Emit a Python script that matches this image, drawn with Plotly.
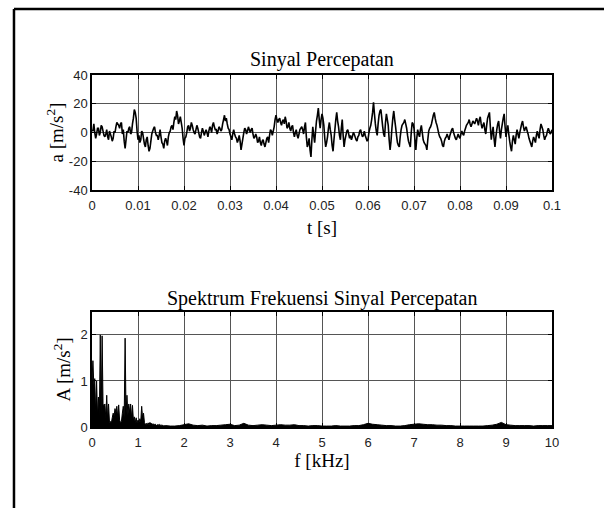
import numpy as np
import plotly.graph_objects as go
from plotly.subplots import make_subplots

# ---------------- data ----------------
dt = 0.0002
accel_0 = [2, 1, 6, 0, -4, -1, 3, 3, -2, 0, 5, 4, 1, -2, -3, -1, 2, -3, -5, 1,
           -1, -3, -6, -4, 1, 0, 4, 7, 6, 5, 3, 6, 7, -1, 2, -6, -11, -5, 1, 0,
           3, 4, -1, 0, 6, 10, 16, 14, 10, 1]
accel_1 = [-5, -2, -7, -5, 1, 0, -4, -8, -10, -5, -3, -9, -13, -11, -6, -1, 1, 3, 4, 0,
           -2, -2, -5, -2, 2, -3, -7, -8, -11, -6, -4, -6, -9, -3, 0, 1, 4, 5, 2, 7,
           11, 9, 15, 12, 6, 8, 11, 7, 3, -4]
accel_2 = [-9, -4, -3, 0, 4, 5, 1, 3, 7, 5, 2, 0, -1, 2, 5, 3, 0, -3, -4, 0,
           3, 1, -2, 0, 2, 0, -3, 1, 4, 3, 0, 5, 7, 4, 2, 2, -1, 1, 4, 3,
           1, 2, 6, 9, 12, 8, 10, 6, 3, 2]
accel_3 = [-1, -3, -5, -1, 2, -1, -3, -4, -7, -5, -2, -6, -12, -8, -4, 0, 3, 2, -1, 1,
           4, 2, 0, 2, 3, -1, -4, -3, -1, -3, -7, -6, -3, -7, -9, -6, -5, -8, -10, -7,
           -4, -3, -7, -2, 2, 1, -2, 1, 4, 9]
accel_4 = [12, 9, 7, 9, 10, 7, 5, 8, 9, 6, 11, 8, 3, 4, 7, 3, 1, 4, 5, 0,
           -3, 0, 2, -2, -4, -1, 2, 3, 4, 2, -1, 4, 7, -3, -10, -8, -4, -12, -17, -5,
           4, -2, -7, 1, 8, 12, 17, 9, 3, 9]
accel_5 = [13, 10, 5, -4, -10, -7, -3, 3, 7, 2, -2, -9, -13, -5, 2, 9, 14, 8, 4, -2,
           -5, 3, 9, -2, -10, -5, -2, 1, 2, -1, -4, -2, -5, -3, 0, -1, -3, -5, -6, -3,
           -2, 1, 2, -1, -3, -2, 1, -2, -4, -6]
accel_6 = [-5, 0, 3, 5, 9, 14, 21, 13, 6, 1, -2, 6, 12, 15, 16, 10, 4, -1, -3, 7,
           13, 9, 5, -5, -12, -6, 3, 10, 15, 9, 4, -2, -7, -9, -10, -3, 2, 5, 6, 7,
           9, 6, 3, -2, -6, -8, -10, 0, 7, 6]
accel_7 = [3, -5, -12, -4, 2, -1, -3, 2, 5, 0, -5, -7, -8, -9, -12, -5, 1, 3, 4, 6,
           9, 12, 14, 10, 7, 5, 2, -1, -3, -4, -6, -9, -10, -6, -4, -3, -1, -3, -5, -2,
           0, 2, 3, 0, -2, -4, -5, -3, -1, -3]
accel_8 = [-4, -1, 1, -1, -2, 1, 3, 5, 6, 7, 9, 6, 4, 6, 8, 7, 6, 8, 10, 8,
           5, 9, 11, 6, 3, 5, 7, 2, -1, 5, 10, 12, 14, 4, -5, 0, 4, -4, -10, -3,
           2, 6, 8, 1, -4, 2, 6, 10, 13, 4]
accel_9 = [-3, 2, 5, -1, -6, -10, -13, -6, -2, -5, -8, -2, 2, -1, -4, 0, 3, 6, 8, 4,
           1, 3, 4, 1, -1, -4, -6, -8, -10, -6, -3, -5, -7, -2, 1, -2, -4, 2, 6, 4,
           2, -2, -5, -3, -2, 1, 3, 1, -1, 0, 2]
accel = (accel_0 + accel_1 + accel_2 + accel_3 + accel_4 +
         accel_5 + accel_6 + accel_7 + accel_8 + accel_9)
t = np.arange(len(accel)) * dt

spec_lo = [
    1.0, 1.44, 0.9, 1.05, 0.3, 1.0, 0.25, 0.65, 0.2, 2.0,
    0.3, 1.98, 0.5, 0.45, 0.5, 0.2, 0.69, 0.15, 0.5, 0.1,
    0.12, 0.08, 0.2, 0.3, 0.25, 0.4, 0.3, 0.45, 0.2, 0.48,
    0.15, 0.1, 0.12, 0.3, 0.45, 0.2, 1.93, 0.3, 0.69, 0.25,
    0.5, 0.3, 0.5, 0.2, 0.47, 0.15, 0.22, 0.1, 0.2, 0.08,
    0.15, 0.1, 0.18, 0.12, 0.45, 0.2, 0.3, 0.1, 0.05, 0.08,
    0.04, 0.09, 0.05, 0.1, 0.06, 0.08, 0.04, 0.07, 0.05, 0.06,
    0.03, 0.05, 0.04, 0.06, 0.03, 0.05, 0.03, 0.04, 0.02, 0.03,
]
spec_hi = [
    0.03, 0.02, 0.02, 0.03, 0.05, 0.07, 0.04, 0.03, 0.04, 0.02,
    0.03, 0.03, 0.04, 0.05, 0.06, 0.03, 0.04, 0.08, 0.04, 0.03,
    0.04, 0.05, 0.04, 0.03, 0.04, 0.05, 0.04, 0.04, 0.05, 0.03,
    0.03, 0.02, 0.03, 0.03, 0.02, 0.02, 0.02, 0.03, 0.02, 0.02,
    0.02, 0.03, 0.03, 0.05, 0.08, 0.06, 0.05, 0.04, 0.03, 0.03,
    0.02, 0.02, 0.03, 0.05, 0.06, 0.07, 0.06, 0.05, 0.05, 0.04,
    0.04, 0.03, 0.03, 0.02, 0.02, 0.02, 0.02, 0.02, 0.02, 0.02,
    0.03, 0.04, 0.06, 0.1, 0.05, 0.04, 0.03, 0.03, 0.03, 0.03,
    0.02, 0.03, 0.03, 0.03, 0.03,
]
f_lo = np.arange(len(spec_lo)) * 0.02
f_hi = 1.6 + np.arange(len(spec_hi)) * 0.1
freq = np.concatenate([f_lo, f_hi])
spec = spec_lo + spec_hi

t_ticks = [0, 0.01, 0.02, 0.03, 0.04, 0.05, 0.06, 0.07, 0.08, 0.09, 0.1]
t_labels = ["0", "0.01", "0.02", "0.03", "0.04", "0.05", "0.06", "0.07", "0.08", "0.09", "0.1"]
a_ticks = [-40, -20, 0, 20, 40]
a_labels = ["-40", "-20", "0", "20", "40"]
f_ticks = list(range(0, 11))
A_ticks = [0, 1, 2]

# ---------------- figure ----------------
fig = make_subplots(rows=2, cols=1, vertical_spacing=0.0)

fig.add_trace(go.Scatter(x=t, y=accel, mode="lines",
                         line=dict(color="black", width=1.6, simplify=False)), row=1, col=1)
fig.add_trace(go.Scatter(x=freq, y=spec, mode="lines", fill="tozeroy",
                         fillcolor="black",
                         line=dict(color="black", width=1, simplify=False)), row=2, col=1)

serif = "Liberation Serif, Times New Roman, serif"
sans = "Liberation Sans, Arial, sans-serif"

common = dict(showline=True, linecolor="black", linewidth=1.5, mirror="ticks",
              ticks="inside", ticklen=4, tickcolor="black",
              showgrid=True, gridcolor="#555", gridwidth=1,
              zeroline=False, tickfont=dict(family=sans, size=13, color="#222"))

fig.update_xaxes(**common, ticklabelstandoff=3)
fig.update_yaxes(**common)

title_font = dict(family=serif, size=19, color="black")

fig.update_xaxes(range=[0, 0.1], tickvals=t_ticks, ticktext=t_labels,
                 domain=[0, 1], row=1, col=1,
                 title=dict(text="t [s]", font=title_font, standoff=8))
fig.update_yaxes(range=[-40, 40], tickvals=a_ticks, ticktext=a_labels,
                 domain=[0.673, 1.0], row=1, col=1,
                 title=dict(text="a [m/s<sup>2</sup>]", font=title_font, standoff=0))
fig.update_xaxes(range=[0, 10], tickvals=f_ticks, domain=[0, 1], row=2, col=1,
                 title=dict(text="f [kHz]", font=title_font, standoff=1))
fig.update_yaxes(range=[0, 2.5], tickvals=A_ticks, domain=[0.0, 0.327], row=2, col=1,
                 title=dict(text="A [m/s<sup>2</sup>]", font=title_font, standoff=5))

fig.add_annotation(text="Sinyal Percepatan", xref="paper", yref="paper",
                   x=0.5, y=1.043, showarrow=False, xanchor="center", yanchor="middle",
                   font=dict(family=serif, size=20, color="black"))
fig.add_annotation(text="Spektrum Frekuensi Sinyal Percepatan", xref="paper", yref="paper",
                   x=0.5, y=0.366, showarrow=False, xanchor="center", yanchor="middle",
                   font=dict(family=serif, size=20, color="black"))

# outer frame (left and top edges)
fig.add_shape(type="line", xref="paper", yref="paper", x0=-0.1696, x1=-0.1696,
              y0=-0.3, y1=1.1875, line=dict(color="black", width=2.5))
fig.add_shape(type="line", xref="paper", yref="paper", x0=-0.1696, x1=1.2,
              y0=1.1875, y1=1.1875, line=dict(color="black", width=2.5))

fig.update_layout(width=604, height=508, showlegend=False,
                  paper_bgcolor="white", plot_bgcolor="white",
                  margin=dict(l=92, r=52, t=75, b=81))

fig.write_html("out.html")
